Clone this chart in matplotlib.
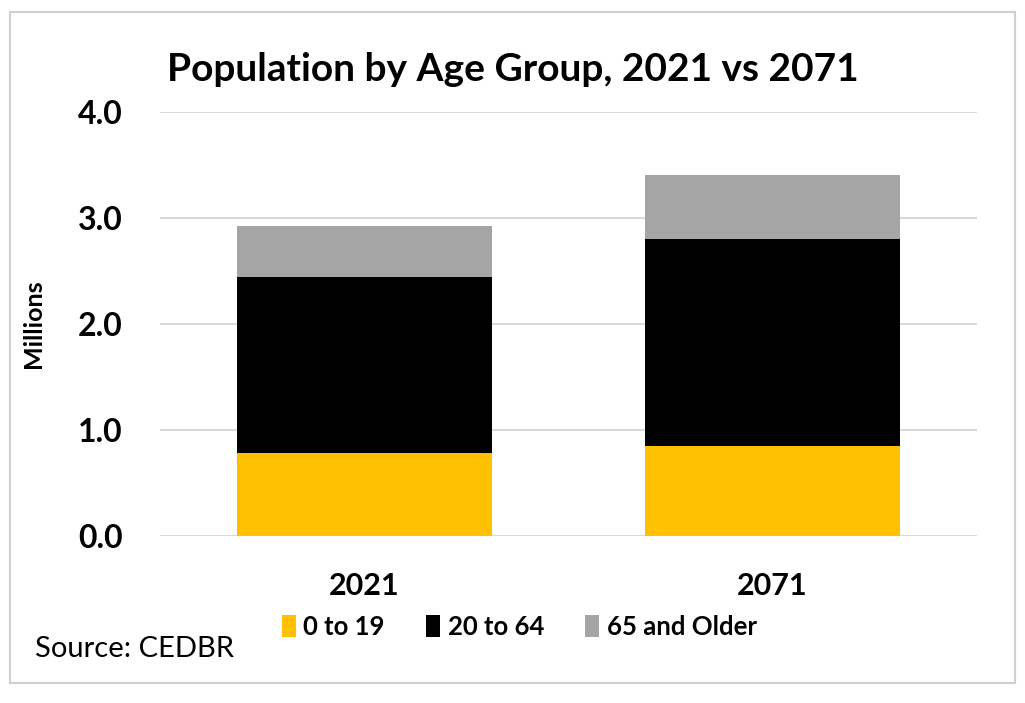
import numpy as np
import matplotlib.pyplot as plt
from matplotlib.patches import Rectangle

# data (millions)
years = ['2021', '2071']
age_groups = ['0 to 19', '20 to 64', '65 and Older']
young = [0.78, 0.85]
working = [1.66, 1.95]
older = [0.48, 0.60]
colors = ['#FFC000', '#000000', '#A5A5A5']

plt.rcParams['font.family'] = ['Lato', 'DejaVu Sans']

fig = plt.figure(figsize=(10.25, 7.03), dpi=100)
ax = fig.add_axes([0.156, 0.238, 0.797, 0.603])

x = np.arange(len(years))
w = 0.624
bottom = np.zeros(len(years))
for vals, lab, col in zip([young, working, older], age_groups, colors):
    ax.bar(x, vals, w, bottom=bottom, color=col, label=lab, zorder=3)
    bottom += np.array(vals)

ax.set_xlim(-0.5, 1.5)
ax.set_ylim(0, 4)
ax.set_yticks([0, 1, 2, 3, 4])
ax.set_yticklabels([f'{v:.1f}' for v in [0, 1, 2, 3, 4]], fontsize=23, fontweight='bold')
ax.set_xticks(x)
ax.set_xticklabels(years, fontsize=22, fontweight='bold')
ax.tick_params(axis='both', length=0)
ax.tick_params(axis='y', pad=27)
ax.tick_params(axis='x', pad=26)
ax.grid(axis='y', color='#d9d9d9', linewidth=1.5, zorder=0)
for s in ax.spines.values():
    s.set_visible(False)

ax.set_ylabel('Millions', fontsize=18, fontweight='bold')
ax.yaxis.set_label_coords(-0.141, 0.5)

fig.text(0.50, 0.901, 'Population by Age Group, 2021 vs 2071', ha='center', va='center',
         fontsize=28, fontweight='bold')

ax.legend(loc='center', bbox_to_anchor=(0.44, -0.215), ncol=3, frameon=False,
          prop={'size': 18.5, 'weight': 'bold'}, handlelength=0.55, handleheight=0.9,
          handletextpad=0.3, columnspacing=1.6)

fig.text(0.034, 0.077, 'Source: CEDBR', fontsize=21, va='center')

fig.patches.append(Rectangle((10 / 1025, 1 - 683 / 703), 1005 / 1025, 671 / 703,
                             transform=fig.transFigure, fill=False,
                             edgecolor='#d0d0d0', linewidth=1.5))

plt.savefig('out.png', dpi=100)
